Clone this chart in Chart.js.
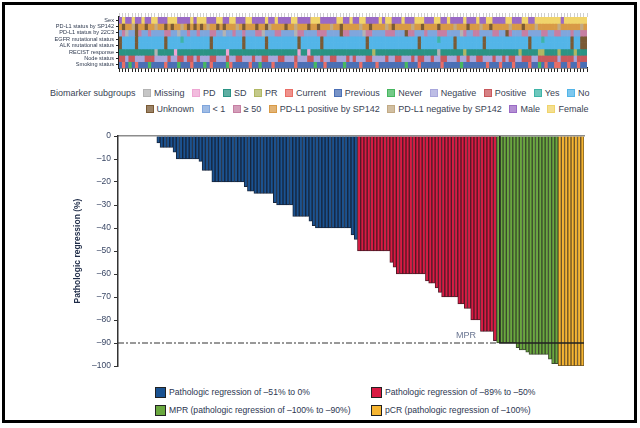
<!DOCTYPE html>
<html>
<head>
<meta charset="utf-8">
<script src="https://cdn.jsdelivr.net/npm/chart.js@4.4.1/dist/chart.umd.min.js"></script>
<style>
  html, body { margin: 0; padding: 0; background: #fff; }
  body { width: 640px; height: 428px; position: relative; overflow: hidden; font-family: "Liberation Sans", Arial, sans-serif; }
  #frame { position: absolute; left: 2px; top: 2px; width: 635px; height: 421px; box-sizing: border-box; border: 3px solid #000; pointer-events: none; }
  #heatmap { position: absolute; left: 0; top: 0; }
  #waterfall { position: absolute; left: 0; top: 120px; }
  .bm-row { position: absolute; display: flex; align-items: center; white-space: nowrap; font-size: 9px; color: #3a4354; }
  .bm-row .item { display: flex; align-items: center; margin-left: 7.5px; }
  .bm-row .sw { width: 6px; height: 6px; border: 1.5px solid; margin-right: 3px; }
  #wf-legend { position: absolute; left: 155px; top: 386px; display: grid; grid-template-columns: 216px auto; row-gap: 6px; font-size: 8.6px; color: #2b3550; }
  #wf-legend .item { display: flex; align-items: center; white-space: nowrap; height: 12px; }
  #wf-legend .sw { width: 9px; height: 9px; border: 1px solid #222; margin-right: 3px; }
</style>
</head>
<body>
<canvas id="heatmap" width="640" height="80"></canvas>
<div class="bm-row" id="bm-row1" style="left:50px; top:88px;"></div>
<div class="bm-row" id="bm-row2" style="left:138px; top:104px;"></div>
<canvas id="waterfall" width="640" height="260"></canvas>
<div id="wf-legend"></div>
<div id="frame"></div>
<script>
// pathologic regression (%) per patient, sorted as in the waterfall
const regression = [
  0, 0, 0, 0, 0, 0, 0, 0, 0, 0, 0, 0,
  -3, -5, -5, -5, -5, -7, -10, -10, -10, -10, -10, -10, -10, -11,
  -15, -15, -15, -20, -20, -20, -20, -20, -20, -20, -20, -20, -20,
  -22, -24, -24, -25, -25, -25, -25, -25, -25, -29, -30, -30, -30, -30, -30,
  -35, -35, -35, -35, -35, -37, -39,
  -40, -40, -40, -40, -40, -40, -40, -40, -40, -40, -40, -43, -45,
  -50, -50, -50, -50, -50, -50, -50, -50, -50, -50, -55, -57,
  -60, -60, -60, -60, -60, -60, -60, -60, -60, -63, -64, -64, -66, -68,
  -70, -70, -70, -70, -70, -73, -73, -75, -75, -80, -80, -80, -85, -85, -85, -85, -89,
  -90, -90, -90, -90, -90, -90, -92, -93, -93, -94, -95, -95, -95, -95, -95, -95, -97, -99, -99,
  -100, -100, -100, -100, -100, -100, -100, -100
]
const patients = regression.map((_, i) => 'P' + (i + 1))

const groupLabels = [
  'Pathologic regression of \u201351% to 0%',
  'Pathologic regression of \u201389% to \u201350%',
  'MPR (pathologic regression of \u2013100% to \u201390%)',
  'pCR (pathologic regression of \u2013100%)'
]
const groupColors = ['#1a5291', '#d91a43', '#6aa83f', '#f6b531']
const groupBorders = ['#17263d', '#4f1a27', '#3a4a2c', '#6e5426']
const mprThreshold = -90

// biomarker heatmap rows (top to bottom), one code per patient
const heatRows = ['Sex', 'PD-L1 status by SP142', 'PD-L1 status by 22C3', 'EGFR mutational status',
  'ALK mutational status', 'RECIST response', 'Node status', 'Smoking status']
const sexRow = 'MFMMFMMFMMFF MMMFFFMMMMFM FFFMMMFFMMFF MMMFFMMMMFMM FMMMMFFMMMMF FFMMMMMFFMMF MMFFMMMMFMFF MMMFMMMFFFMM MFFMMFMMMMFM MMFMMFFMMMMF FMMMFFMMFFFF FFFFMFFFFFFF'
const sp142Row = 'PUPPNUPPUPPN PPUPUPPNPUPU PUPNPPUPUPPP NPUPPPUPPUNP PPPUPPNPPPUP PUPPPNPPUPPP PPNPPUPPPPNP UPPPPPNPPUPP PPUPPPPNPPPU PPPNPPUPPPPP NPPPUPPPNPPP PPPNPPPPPPNP'
const pd22c3Row = 'LHXLLUHLLHLL LLHHLLXLLHLL HLLLHHLLXLLH LLHLLLHHXLLL HHLLLLXHHLLL LHHHLLLLUHHL LLLXHHLLLLHH HLLLUHHLLLHL LLHHHLLLLXHL LHHLLLLHHLLU HLLLHHLLLLHH LLHHLLLHLLHH'
const egfrRow = 'UNNNNUNNNNNN NNUNNNNYNNNN NNNNUNNNNNNN NNUNNNNNNUNN NNNNNNNUNNNN NNUNNNNNNNNN NNNNUNNNNNNN NNNNNNNNUNNN NNYNNNNUNNNN NNNNUNNNNNNN NNNNNNUNNNYN NNNNNNNUNNUU'
const alkRow = 'UNNNNUNNNNNN NNUNNNNNNNNN NNNNUNNNNNNN NNUNNNNNNUNN NNNNNNNUNNNN NNUNNNNNNNNN NNNNUNNNNNNN NNNNNNNNUNNN NNNNNNNUNNNN NNNNUNNNNNNN NNNNNNUNNNNN NNNNNNNUNNUU'
const recistRow = 'SSSSSSSSSSSX SSSSSDSSSSSS SSSSSSSSSDSS SSSSSSSSSSSS SSSSSSSDSSDS SSSSSSSSSSSS SSSSSSRSSSSS SSSSSSSSSSSS SSXSSSSSSSRS SSSSSSSSSSSS SSSRSSSSSRRS SSSRSSSSRSSS'
const nodeRow = 'PPNPPNNNPPPN NNNPNNPPNPPN PNNNPPNNNPNN PPNNNPNNPPNN NPPNNNPNNNPP NNPNNPPNNNPN PNNNPPNNNNPN NPPNNNPNPPNN PNNPPNNNPNNP NNPPNNNPNNPN PPNNPPPNNPPP PPPNPPPPNPPP'
const smokingRow = 'PCPNPCPPPNPP PPCPPPNPPPCP PPNPCPPPPNCP PPPPCPPNPPPC PPPPPPCPPPPP NPPCPPPPPNPP PPCPPPPCPPPP PPPPNPPPCPPP PPPCPPPPPNPP PPPPPCPPPCPP PCPPPPCPPNPC PPCCPPCPPCPP'
const rowCodes = [sexRow, sp142Row, pd22c3Row, egfrRow, alkRow, recistRow, nodeRow, smokingRow]
const rowKeys = [
  { M: 'Male', F: 'Female' },
  { P: 'PD-L1 positive by SP142', N: 'PD-L1 negative by SP142', U: 'Unknown', X: 'Missing' },
  { L: '< 1', H: '\u2265 50', U: 'Unknown', X: 'Missing' },
  { N: 'No', Y: 'Yes', U: 'Unknown' },
  { N: 'No', Y: 'Yes', U: 'Unknown' },
  { S: 'SD', D: 'PD', R: 'PR', X: 'Missing' },
  { N: 'Negative', P: 'Positive' },
  { C: 'Current', P: 'Previous', N: 'Never' }
]

const subgroupNames = ['Missing', 'PD', 'SD', 'PR', 'Current', 'Previous', 'Never', 'Negative', 'Positive', 'Yes', 'No',
  'Unknown', '< 1', '\u2265 50', 'PD-L1 positive by SP142', 'PD-L1 negative by SP142', 'Male', 'Female']
const subgroupColors = ['#b3b3b3', '#eea6d3', '#2b9384', '#b0b763', '#ea6e66', '#4b6fb5', '#47b760', '#a8a7dc', '#c8585c', '#3fb4a7', '#53b5e8',
  '#7a5a35', '#80a6dc', '#c67fa3', '#d89a46', '#c2aa84', '#9a6ac5', '#f0d46b']
const firstRowCount = 11

const FONT = '"Liberation Sans", Arial, sans-serif'
Chart.defaults.font.family = FONT

function subgroupColor(name) {
  return subgroupColors[subgroupNames.indexOf(name)] || '#ffffff'
}

function groupOf(v) {
  if (v <= -100) return 3
  if (v <= mprThreshold) return 2
  if (v <= -50) return 1
  return 0
}

// ---- heatmap (stacked unit bars, one dataset per biomarker row)
const heatDatasets = heatRows.map((name, r) => {
  const codes = rowCodes[r].replace(/ /g, '')
  return {
    label: name,
    data: patients.map(() => 1),
    backgroundColor: patients.map((_, i) => subgroupColor(rowKeys[r][codes[i]])),
    borderWidth: 0,
    barPercentage: 1,
    categoryPercentage: 1
  }
})

new Chart(document.getElementById('heatmap'), {
  type: 'bar',
  data: { labels: patients, datasets: heatDatasets },
  options: {
    responsive: false,
    animation: false,
    devicePixelRatio: 1,
    layout: { padding: { left: 0, right: 53, top: 13, bottom: 7 } },
    plugins: { legend: { display: false }, tooltip: { enabled: false } },
    scales: {
      x: {
        stacked: true,
        ticks: { display: false, autoSkip: false },
        grid: { drawOnChartArea: false, color: '#222', tickLength: 4, lineWidth: 1 },
        border: { color: '#222', width: 1.5 },
        afterFit(s) { s.height = 5 }
      },
      xTop: {
        type: 'category',
        position: 'top',
        ticks: { display: false, autoSkip: false },
        grid: { drawOnChartArea: false, color: '#cfcfcf', tickLength: 4 },
        border: { display: false },
        afterFit(s) { s.height = 4 }
      },
      y: {
        stacked: true,
        min: 0,
        max: heatRows.length,
        reverse: true,
        afterBuildTicks(s) { s.ticks = heatRows.map((_, i) => ({ value: i + 0.5 })) },
        ticks: {
          autoSkip: false,
          padding: 2,
          color: '#2f3a4f',
          font: { size: 5.6 },
          callback: (v, i) => heatRows[i]
        },
        grid: { drawOnChartArea: false, color: '#222', tickLength: 3 },
        border: { color: '#222', width: 1.5 },
        afterFit(s) { s.width = 119 }
      }
    }
  }
})

// biomarker legend
function addSubgroup(row, name) {
  const item = document.createElement('div')
  item.className = 'item'
  const sw = document.createElement('span')
  sw.className = 'sw'
  const c = subgroupColor(name)
  sw.style.borderColor = c
  sw.style.background = c + 'c0'
  item.appendChild(sw)
  item.appendChild(document.createTextNode(name))
  row.appendChild(item)
}
const bmRow1 = document.getElementById('bm-row1')
const bmRow2 = document.getElementById('bm-row2')
const bmTitle = document.createElement('span')
bmTitle.textContent = 'Biomarker subgroups'
bmRow1.appendChild(bmTitle)
subgroupNames.forEach((name, i) => addSubgroup(i < firstRowCount ? bmRow1 : bmRow2, name))

// ---- waterfall
const mprLines = {
  id: 'mprLines',
  afterDatasetsDraw(chart) {
    const { ctx, chartArea, scales: { x, y } } = chart
    const w = x.width / patients.length
    const firstMpr = regression.findIndex(v => v <= mprThreshold)
    const yMpr = y.getPixelForValue(mprThreshold)
    const dashEnd = x.getPixelForValue(firstMpr) - w / 2
    const boxX = x.getPixelForValue(firstMpr + 1) - w / 2
    const lastX = x.getPixelForValue(patients.length - 1) + w / 2
    ctx.save()
    ctx.strokeStyle = '#333'
    ctx.lineWidth = 1
    ctx.setLineDash([6, 2, 2, 2])
    ctx.beginPath()
    ctx.moveTo(chartArea.left, yMpr)
    ctx.lineTo(dashEnd, yMpr)
    ctx.stroke()
    ctx.setLineDash([])
    ctx.strokeStyle = '#222'
    ctx.lineWidth = 1.5
    ctx.beginPath()
    ctx.moveTo(boxX, chartArea.top)
    ctx.lineTo(boxX, yMpr)
    ctx.lineTo(lastX, yMpr)
    ctx.stroke()
    ctx.fillStyle = '#6a7591'
    ctx.font = '9px ' + FONT
    ctx.textAlign = 'center'
    ctx.textBaseline = 'bottom'
    ctx.fillText('MPR', x.getPixelForValue(firstMpr - 10), yMpr - 3)
    ctx.restore()
  }
}

new Chart(document.getElementById('waterfall'), {
  type: 'bar',
  data: {
    labels: patients,
    datasets: [{
      label: 'Pathologic regression',
      data: regression,
      backgroundColor: ctx => groupColors[groupOf(ctx.raw)],
      borderColor: ctx => groupBorders[groupOf(ctx.raw)],
      borderWidth: 1,
      borderSkipped: 'start',
      barPercentage: 1,
      categoryPercentage: 1
    }]
  },
  options: {
    responsive: false,
    animation: false,
    devicePixelRatio: 1,
    layout: { padding: { left: 73, right: 56, top: 16, bottom: 14 } },
    plugins: { legend: { display: false }, tooltip: { enabled: false } },
    scales: {
      x: {
        position: 'top',
        ticks: { display: false },
        grid: { display: false, drawTicks: false },
        border: { color: '#8c8c8c', width: 1.5 },
        afterFit(s) { s.height = 0 }
      },
      y: {
        min: -100,
        max: 0,
        ticks: {
          stepSize: 10,
          padding: 3,
          color: '#3b4866',
          font: { size: 8.5 },
          callback: v => v === 0 ? '0' : '\u2013' + Math.abs(v)
        },
        grid: { drawOnChartArea: false, color: '#333', tickLength: 4 },
        border: { color: '#333', width: 1.5 },
        title: {
          display: true,
          text: 'Pathologic regression (%)',
          color: '#1e2b47',
          font: { size: 8.5, weight: 'bold' },
          padding: { top: 0, bottom: 0 }
        },
        afterFit(s) { s.width = 45 }
      }
    }
  },
  plugins: [mprLines]
})

// waterfall legend
const wfLegend = document.getElementById('wf-legend')
groupLabels.forEach((label, i) => {
  const item = document.createElement('div')
  item.className = 'item'
  const sw = document.createElement('span')
  sw.className = 'sw'
  sw.style.background = groupColors[i]
  item.appendChild(sw)
  item.appendChild(document.createTextNode(label))
  wfLegend.appendChild(item)
})
</script>
</body>
</html>
